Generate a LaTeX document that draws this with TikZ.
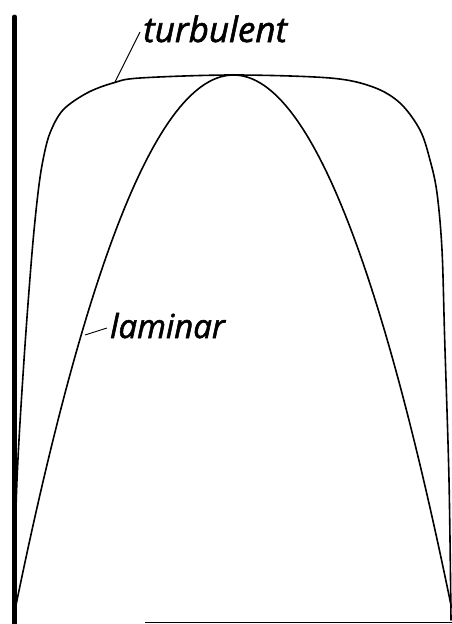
\documentclass[tikz,border=0pt]{standalone}
\usepackage{fontspec}
\setmainfont{Open Sans}
\newfontfamily\lblfont{Open Sans}[ItalicFeatures={FakeBold=1.6}]
\begin{document}
\begin{tikzpicture}[x=1pt,y=-1pt,
  curve/.style={line width=1.6pt, line join=round, line cap=round},
  leader/.style={line width=0.9pt},
  lbl/.style={font=\lblfont\fontsize{33}{35}\selectfont\itshape, inner sep=0pt, anchor=base west}]
\useasboundingbox (0,0) rectangle (452,624);
% wall
\draw[line width=5pt, line cap=round] (14.5,17) -- (14.5,624);
% bottom line
\draw[line width=1pt] (145,622.5) -- (452,622.5);
% laminar profile
\draw[curve] plot[domain=14:451.5, samples=120]
  (\x, {75 + 535*((\x-233.5)/218.5)*((\x-233.5)/218.5)});
% turbulent profile
\draw[curve] plot[smooth, tension=0.55] coordinates {
  (13,620) (17,480) (24,360) (32,253) (38,193) (43,160) (50,133) (63,110)
  (87,93) (113,83) (140,78) (233,75) (330,78) (373,87) (400,103) (420,130)
  (430,160) (437,193) (442,250) (444.7,340) (449,480) (451,620)};
% labels
\node[lbl, font=\lblfont\fontsize{35}{37}\selectfont\itshape] (turb) at (143,42) {turbulent};
\node[lbl] (lam) at (110,338) {laminar};
\coordinate (tp) at (115,82);
\coordinate (tq) at (140,32);
\coordinate (lp) at (85,335);
\coordinate (lq) at (107,328);
\draw[leader] (tp) -- (tq);
\draw[leader] (lp) -- (lq);
\end{tikzpicture}
\end{document}
